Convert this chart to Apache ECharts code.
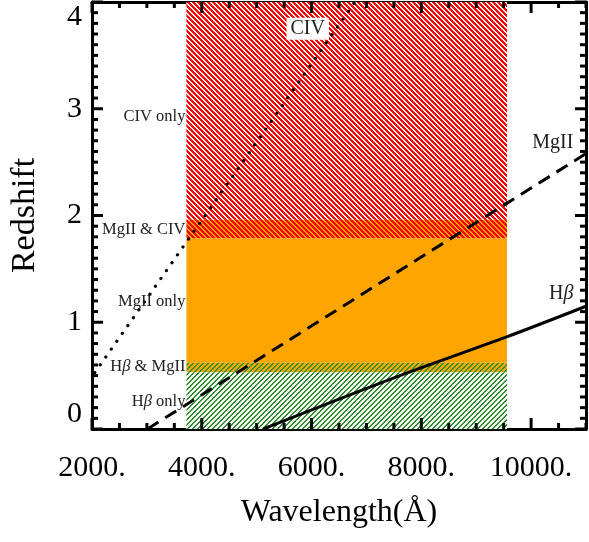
<!DOCTYPE html>
<html>
<head>
<meta charset="utf-8">
<script src="https://cdn.jsdelivr.net/npm/echarts@6/dist/echarts.min.js"></script>
<style>html,body{margin:0;padding:0;background:#fff;}#c{width:589px;height:542px;}</style>
</head>
<body>
<div id="c"></div>
<script>
// ---- data ----
const xMin = 2000, xMax = 11000, yMin = 0, yMax = 4;
const xMajorInterval = 2000, xMinorInterval = 500, yInterval = 1, yMinorInterval = 0.1;

const bandLambda = [3720, 9560];
const bandNames = ['CIV only', 'MgII & CIV', 'MgII only', 'H{it|β} & MgII', 'H{it|β} only'];
const bandLow  = [1.96, 1.785, 0.62, 0.53, 0.0];
const bandHigh = [4.0,  1.96,  1.785, 0.62, 0.53];
const bandLabelZ = [2.93, 1.87, 1.19, 0.58, 0.26];

const civLambda = [2050, 6900];
const civZ      = [0.527, 4.08];
const mgiiLambda = [3010, 11000];
const mgiiZ      = [0.0, 2.58];
const hbLambda = [5120, 7610, 9540, 11000];
const hbZ      = [0.0, 0.50, 0.86, 1.15];

const lineNames = ['CIV', 'MgII', 'H{it|β}'];
const lineLabelX = [5930, 10770, 10770];
const lineLabelY = [3.75, 2.68, 1.27];

// tick values
const xTickValues = [];
for (let v = xMin; v <= xMax + 1e-9; v += xMinorInterval) xTickValues.push(v);
const yTickValues = [];
for (let i = 0; i <= Math.round((yMax - yMin) / yMinorInterval); i++) yTickValues.push(+(yMin + i * yMinorInterval).toFixed(2));
const MAJOR_LEN = 11, MINOR_LEN = 6, TICK_W = 3;

// ---- patterns ----
function hatch(bg, fg, period, width, dir) {
  const c = document.createElement('canvas');
  c.width = period; c.height = period;
  const ctx = c.getContext('2d');
  for (let y = 0; y < period; y++) {
    for (let x = 0; x < period; x++) {
      const k = dir === '\\' ? (((x - y) % period) + period) % period : (x + y) % period;
      const col = k < width ? fg : bg;
      if (col) { ctx.fillStyle = col; ctx.fillRect(x, y, 1, 1); }
    }
  }
  return { image: c, repeat: 'repeat' };
}
const RED = '#ff0000', ORANGE = '#ffa500', GREEN = '#2e922e';
const bandFills = [
  hatch('#ffffff', RED, 5, 3, '\\'),
  hatch(ORANGE, RED, 5, 3, '\\'),
  ORANGE,
  hatch(ORANGE, GREEN, 5, 2, '/'),
  hatch('#ffffff', GREEN, 5, 2, '/')
];

const FONT = "'Liberation Serif','Times New Roman',serif";
const zip = (a, b) => a.map((v, i) => [v, b[i]]);

const chart = echarts.init(document.getElementById('c'), null, { renderer: 'canvas' });

const LINE = { color: '#000', width: 3 };

function xLineAxis(position, labels) {
  return {
    type: 'value', position, min: xMin, max: xMax, interval: xMajorInterval,
    splitLine: { show: false },
    axisLine: { show: true, onZero: false, lineStyle: LINE },
    axisTick: { show: false },
    axisLabel: labels ? {
      show: true, margin: 24, fontSize: 30, fontFamily: FONT, color: '#000',
      formatter: v => (v % 2000 === 0 && v <= 10000) ? v + '.' : ''
    } : { show: false },
    name: labels ? 'Wavelength(Å)' : '',
    nameLocation: 'middle', nameGap: 68,
    nameTextStyle: { fontSize: 32, fontFamily: FONT, color: '#000' }
  };
}
function yLineAxis(position, labels) {
  return {
    type: 'value', position, min: yMin, max: yMax, interval: yInterval,
    splitLine: { show: false },
    axisLine: { show: true, onZero: false, lineStyle: LINE },
    axisTick: { show: false },
    axisLabel: labels ? {
      show: true, margin: 10, fontSize: 30, fontFamily: FONT, color: '#000',
      verticalAlignMinLabel: 'bottom', verticalAlignMaxLabel: 'top'
    } : { show: false },
    name: labels ? 'Redshift' : '',
    nameLocation: 'middle', nameGap: 50,
    nameTextStyle: { fontSize: 34, fontFamily: FONT, color: '#000' }
  };
}

const bandArea = bandNames.map((n, i) => [
  { xAxis: bandLambda[0], yAxis: bandLow[i], itemStyle: { color: bandFills[i], opacity: 1 } },
  { xAxis: bandLambda[1], yAxis: bandHigh[i] }
]);

const option = {
  animation: false,
  backgroundColor: '#fff',
  grid: { left: 90, right: 3, top: 2, bottom: 113, containLabel: false },
  xAxis: [xLineAxis('bottom', true), xLineAxis('top', false)],
  yAxis: [yLineAxis('left', true), yLineAxis('right', false)],
  series: [
    {
      type: 'line', data: [], z: 1, silent: true,
      markArea: { silent: true, data: bandArea, label: { show: false } }
    },
    {
      type: 'line', name: 'CIV', data: zip(civLambda, civZ), showSymbol: false, z: 3, clip: true,
      lineStyle: { color: '#000', width: 3.2, type: [0.1, 9.5], cap: 'round' }
    },
    {
      type: 'line', name: 'MgII', data: zip(mgiiLambda, mgiiZ), showSymbol: false, z: 3, clip: true,
      lineStyle: { color: '#000', width: 3, type: [13, 8] }
    },
    {
      type: 'line', name: 'Hb', data: zip(hbLambda, hbZ), showSymbol: false, z: 3, clip: true, smooth: 0.3,
      lineStyle: { color: '#000', width: 3, type: 'solid' }
    },
    {
      type: 'scatter', symbolSize: 0, z: 4, silent: true, itemStyle: { opacity: 1 },
      data: bandNames.map((n, i) => ({ value: [bandLambda[0], bandLabelZ[i]], name: n })),
      label: {
        show: true, position: 'left', distance: 1, formatter: '{b}',
        fontSize: 16.5, fontFamily: FONT, color: '#222', rich: { it: { fontStyle: 'italic', fontFamily: FONT, fontSize: 16.5, color: '#222' } }
      }
    },
    {
      type: 'scatter', symbolSize: 0, z: 5, silent: true, itemStyle: { opacity: 1 },
      data: lineNames.map((n, i) => ({
        value: [lineLabelX[i], lineLabelY[i]], name: n,
        label: i === 0 ? { position: 'inside', align: 'center', backgroundColor: '#fff', padding: [1, 4] }
                       : { position: 'left', distance: 0 }
      })),
      label: {
        show: true, formatter: '{b}',
        fontSize: 20, fontFamily: FONT, color: '#222', rich: { it: { fontStyle: 'italic', fontFamily: FONT, fontSize: 20, color: '#222' } }
      }
    }
  ]
};
chart.setOption(option);

// tick marks on all four sides, placed through the chart's own coordinate conversion
const tickRects = [];
const toPx = (x, y) => chart.convertToPixel({ gridIndex: 0 }, [x, y]);
xTickValues.forEach(v => {
  const len = (v - xMin) % xMajorInterval === 0 ? MAJOR_LEN : MINOR_LEN;
  const b = toPx(v, yMin), t = toPx(v, yMax);
  tickRects.push({ type: 'rect', z: 100, silent: true, shape: { x: b[0] - TICK_W / 2, y: b[1] - len, width: TICK_W, height: len }, style: { fill: '#000' } });
  tickRects.push({ type: 'rect', z: 100, silent: true, shape: { x: t[0] - TICK_W / 2, y: t[1], width: TICK_W, height: len }, style: { fill: '#000' } });
});
yTickValues.forEach((v, i) => {
  const len = i % 10 === 0 ? MAJOR_LEN : MINOR_LEN;
  const l = toPx(xMin, v), r = toPx(xMax, v);
  tickRects.push({ type: 'rect', z: 100, silent: true, shape: { x: l[0], y: l[1] - TICK_W / 2, width: len, height: TICK_W }, style: { fill: '#000' } });
  tickRects.push({ type: 'rect', z: 100, silent: true, shape: { x: r[0] - len, y: r[1] - TICK_W / 2, width: len, height: TICK_W }, style: { fill: '#000' } });
});
chart.setOption({ graphic: { elements: tickRects } });
</script>
</body>
</html>
